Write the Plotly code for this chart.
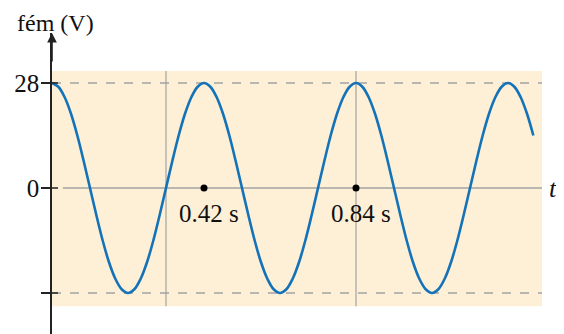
import plotly.graph_objects as go

t_vals = [0.0, 0.0175, 0.035, 0.0525, 0.07, 0.0875, 0.105, 0.1225, 0.14, 0.1575,
          0.175, 0.1925, 0.21, 0.2275, 0.245, 0.2625, 0.28, 0.2975, 0.315, 0.3325,
          0.35, 0.3675, 0.385, 0.4025,
          0.42, 0.4375, 0.455, 0.4725, 0.49, 0.5075, 0.525, 0.5425, 0.56, 0.5775,
          0.595, 0.6125, 0.63, 0.6475, 0.665, 0.6825, 0.7, 0.7175, 0.735, 0.7525,
          0.77, 0.7875, 0.805, 0.8225,
          0.84, 0.8575, 0.875, 0.8925, 0.91, 0.9275, 0.945, 0.9625, 0.98, 0.9975,
          1.015, 1.0325, 1.05, 1.0675, 1.085, 1.1025, 1.12, 1.1375, 1.155, 1.1725,
          1.19, 1.2075, 1.225, 1.2425,
          1.26, 1.2775, 1.295, 1.3125, 1.33]
emf_vals = [28, 27, 24.2, 19.8, 14, 7.2, 0, -7.2, -14, -19.8, -24.2, -27,
            -28, -27, -24.2, -19.8, -14, -7.2, 0, 7.2, 14, 19.8, 24.2, 27,
            28, 27, 24.2, 19.8, 14, 7.2, 0, -7.2, -14, -19.8, -24.2, -27,
            -28, -27, -24.2, -19.8, -14, -7.2, 0, 7.2, 14, 19.8, 24.2, 27,
            28, 27, 24.2, 19.8, 14, 7.2, 0, -7.2, -14, -19.8, -24.2, -27,
            -28, -27, -24.2, -19.8, -14, -7.2, 0, 7.2, 14, 19.8, 24.2, 27,
            28, 27, 24.2, 19.8, 14]
amplitude = 28
marked_times = [0.42, 0.84]
marked_labels = ["0.42 s", "0.84 s"]
vline_times = [0.315, 0.84]
y_tick_vals = [28, 0, -28]
y_tick_text = ["28", "0", ""]

T_MAX = 1.4147
Y_TOP = 41.33
Y_BOT = -38.93
BG_X1 = 1.354
BG_Y0, BG_Y1 = -31.5, 31.2

FONT = "Liberation Serif, Times New Roman, serif"
GRAY = "#a3a3a3"

fig = go.Figure()

shapes = [
    dict(type="rect", xref="x", yref="y", x0=0, x1=BG_X1, y0=BG_Y0, y1=BG_Y1,
         fillcolor="#fdf0d7", line=dict(width=0), layer="below"),
    dict(type="line", xref="x", yref="y", x0=0.03, x1=BG_X1, y0=0, y1=0,
         line=dict(color=GRAY, width=1.5), layer="below"),
    dict(type="line", xref="x", yref="y", x0=0, x1=BG_X1, y0=amplitude, y1=amplitude,
         line=dict(color=GRAY, width=1.5, dash="dash"), layer="below"),
    dict(type="line", xref="x", yref="y", x0=0, x1=BG_X1, y0=-amplitude, y1=-amplitude,
         line=dict(color=GRAY, width=1.5, dash="dash"), layer="below"),
]
for tv in vline_times:
    shapes.append(dict(type="line", xref="x", yref="y", x0=tv, x1=tv, y0=BG_Y0, y1=BG_Y1,
                       line=dict(color=GRAY, width=1.2), layer="below"))
# inner part of the y ticks
for yv in y_tick_vals:
    shapes.append(dict(type="line", xref="x", yref="y", xsizemode="pixel", xanchor=0,
                       x0=0, x1=6, y0=yv, y1=yv, line=dict(color="#222", width=1.5)))

fig.add_trace(go.Scatter(
    x=t_vals, y=emf_vals, mode="lines",
    line=dict(color="#1472b8", width=2.6, shape="spline", smoothing=1.0),
    hoverinfo="skip", showlegend=False))

fig.add_trace(go.Scatter(
    x=marked_times, y=[0] * len(marked_times), mode="markers",
    marker=dict(color="black", size=7), showlegend=False, hoverinfo="skip"))

annotations = []
for tv, lab in zip(marked_times, marked_labels):
    annotations.append(dict(x=tv, y=0, xref="x", yref="y", text=lab, showarrow=False,
                            xshift=5, yshift=-25, font=dict(family=FONT, size=25, color="#111")))
annotations.append(dict(x=1.383, y=0, xref="x", yref="y", text="<i>t</i>", showarrow=False,
                        font=dict(family=FONT, size=26, color="#111")))
annotations.append(dict(x=0.006, y=(301 - 1) / 301, xref="paper", yref="paper", text="fém (V)",
                        xanchor="center", yanchor="top", borderpad=0, yshift=25,
                        showarrow=False, font=dict(family=FONT, size=24, color="#111")))
# arrow head on the vertical axis
annotations.append(dict(x=0, y=Y_TOP, xref="x", yref="y", ax=0, ay=Y_TOP - 8,
                        axref="x", ayref="y", showarrow=True, arrowhead=2, arrowsize=1.2,
                        arrowwidth=1.6, arrowcolor="#222", text=""))

# the page body has an 8px margin, so the figure is shifted by 8px;
# the plot area therefore lies at page x 52..564 and y 33..334
fig.update_layout(
    width=556, height=326,
    margin=dict(l=44, r=0, t=25, b=0),
    paper_bgcolor="white", plot_bgcolor="white",
    shapes=shapes, annotations=annotations,
    xaxis=dict(range=[0, T_MAX], visible=False, fixedrange=True),
    yaxis=dict(range=[Y_BOT, Y_TOP], showgrid=False, zeroline=False,
               showline=True, linecolor="#222", linewidth=1.6,
               tickvals=y_tick_vals, ticktext=y_tick_text,
               ticks="outside", ticklen=9, tickwidth=1.5, tickcolor="#222",
               tickfont=dict(family=FONT, size=25, color="#111"),
               ticklabelstandoff=-3, fixedrange=True),
)

fig.write_html("out.html")
